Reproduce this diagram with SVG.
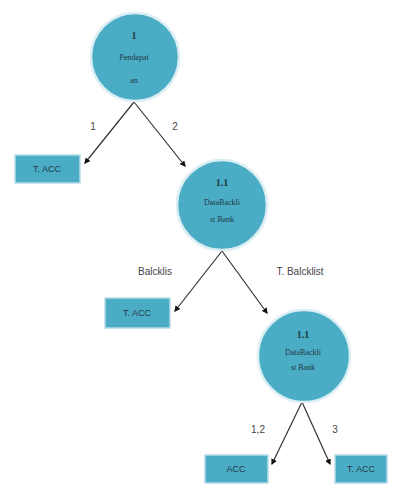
<svg xmlns="http://www.w3.org/2000/svg" width="394" height="491" viewBox="0 0 394 491">
<style>
.c{fill:#4bacc6;stroke:#dbeef4;stroke-width:2.5}
.b{fill:#4bacc6;stroke:#b7dde8;stroke-width:1.5}
.t{font-family:"Liberation Serif",serif;font-size:8px;fill:#1f3a44;text-anchor:middle}
.tb{font-family:"Liberation Serif",serif;font-size:10px;font-weight:bold;fill:#1f3a44;text-anchor:middle}
.bx{font-family:"Liberation Sans",sans-serif;font-size:9px;fill:#1f3a44;text-anchor:middle}
.l{font-family:"Liberation Sans",sans-serif;font-size:10px;fill:#444;text-anchor:middle}
.e{stroke:#333;stroke-width:1.2;fill:none;marker-end:url(#a)}
</style>
<defs>
<marker id="a" viewBox="0 0 10 10" refX="8" refY="5" markerWidth="5" markerHeight="5" orient="auto">
<path d="M0,0 L10,5 L0,10 z" fill="#111"/>
</marker>
</defs>
<rect width="394" height="491" fill="#fff"/>
<g id="connectors">
<line class="e" x1="134" y1="102" x2="85" y2="163"/>
<line class="e" x1="134" y1="102" x2="185" y2="166"/>
<line class="e" x1="222" y1="251" x2="175" y2="311"/>
<line class="e" x1="222" y1="251" x2="267" y2="313"/>
<line class="e" x1="302" y1="402" x2="272" y2="464"/>
<line class="e" x1="302" y1="402" x2="330" y2="464"/>
<text class="l" x="93" y="130">1</text>
<text class="l" x="175" y="130">2</text>
<text class="l" x="155" y="275">Balcklis</text>
<text class="l" x="300" y="275">T. Balcklist</text>
<text class="l" x="258" y="433">1,2</text>
<text class="l" x="335" y="433">3</text>
</g>
<g id="n1">
<circle class="c" cx="135" cy="57" r="44"/>
<text class="tb" x="134" y="39">1</text>
<text class="t" x="134" y="60">Pendapat</text>
<text class="t" x="134" y="83">an</text>
</g>
<g id="n2">
<rect class="b" x="15" y="155" width="65" height="28"/>
<text class="bx" x="47" y="172">T. ACC</text>
</g>
<g id="n3">
<circle class="c" cx="222" cy="205" r="45"/>
<text class="tb" x="222" y="186">1.1</text>
<text class="t" x="222" y="205">DataBackli</text>
<text class="t" x="222" y="222">st Bank</text>
</g>
<g id="n4">
<rect class="b" x="105" y="298" width="65" height="30"/>
<text class="bx" x="137" y="316">T. ACC</text>
</g>
<g id="n5">
<circle class="c" cx="304" cy="356" r="46"/>
<text class="tb" x="303" y="338">1.1</text>
<text class="t" x="303" y="355">DataBackli</text>
<text class="t" x="303" y="370">st Bank</text>
</g>
<g id="n6">
<rect class="b" x="205" y="455" width="63" height="28"/>
<text class="bx" x="236" y="472">ACC</text>
</g>
<g id="n7">
<rect class="b" x="335" y="455" width="52" height="28"/>
<text class="bx" x="361" y="472">T. ACC</text>
</g>
</svg>
